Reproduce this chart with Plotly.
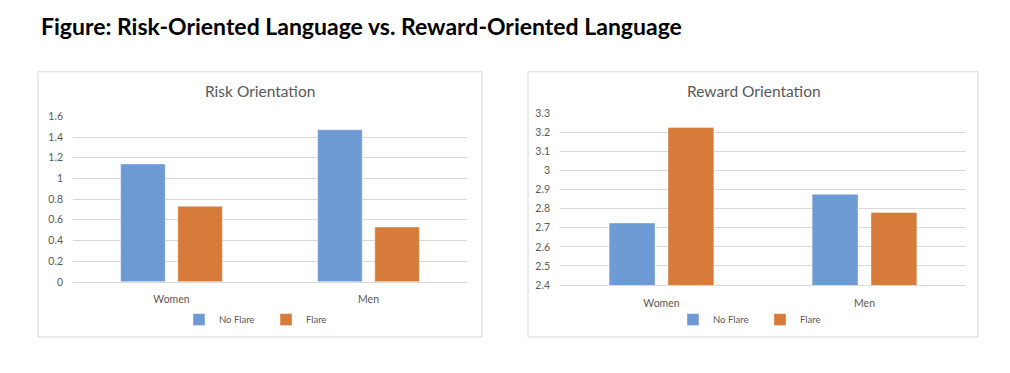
import plotly.graph_objects as go

categories = ["Women", "Men"]
series_names = ["No Flare", "Flare"]
risk_no_flare = [1.14, 1.47]
risk_flare = [0.73, 0.53]
reward_no_flare = [2.725, 2.875]
reward_flare = [3.225, 2.78]
risk_ticks = [0, 0.2, 0.4, 0.6, 0.8, 1, 1.2, 1.4, 1.6]
reward_ticks = [2.4, 2.5, 2.6, 2.7, 2.8, 2.9, 3, 3.1, 3.2, 3.3]

BLUE = "#6F9BD5"
ORANGE = "#D67B3A"
GRAY = "#595959"
GRID = "#D9D9D9"
FONT = "Lato"
W, H = 1010, 373

def px(x):
    return x / W

def py(y):
    return (H - y) / H

fig = go.Figure()
for name, vals, col in [(series_names[0], risk_no_flare, BLUE), (series_names[1], risk_flare, ORANGE)]:
    fig.add_trace(go.Bar(x=categories, y=vals, name=name,
                         marker=dict(color=col, line=dict(width=0.6, color="rgba(255,255,255,0.7)")),
                         xaxis="x", yaxis="y", legend="legend"))
for name, vals, col in [(series_names[0], reward_no_flare, BLUE), (series_names[1], reward_flare, ORANGE)]:
    fig.add_trace(go.Bar(x=categories, y=vals, name=name,
                         marker=dict(color=col, line=dict(width=0.6, color="rgba(255,255,255,0.7)")),
                         xaxis="x2", yaxis="y2", legend="legend2"))

tickfont = dict(family=FONT, size=10.5, color=GRAY)
xcommon = dict(showgrid=False, showline=True, linecolor=GRID, linewidth=1, ticks="", tickfont=tickfont,
               fixedrange=True, ticklabelstandoff=8)
ycommon = dict(showgrid=True, gridcolor=GRID, gridwidth=1, zeroline=False, showline=False, ticks="",
               tickfont=tickfont, ticklabelstandoff=9)

legend_common = dict(orientation="h", xanchor="center", yanchor="middle",
                     font=dict(family=FONT, size=9.5, color=GRAY),
                     bgcolor="rgba(0,0,0,0)", itemwidth=30, tracegroupgap=0,
                     entrywidth=42, entrywidthmode="pixels")

fig.update_layout(
    width=W, height=H,
    margin=dict(l=0, r=0, t=0, b=0),
    paper_bgcolor="white", plot_bgcolor="white",
    barmode="group", bargap=0.42, bargroupgap=0.22,
    xaxis=dict(domain=[px(73), px(467)], anchor="y", **xcommon),
    yaxis=dict(domain=[py(285), py(114)], anchor="x", range=[0, 1.6], tickvals=risk_ticks,
               ticktext=[f"{v:g}" for v in risk_ticks], **ycommon),
    xaxis2=dict(domain=[px(560), px(966)], anchor="y2", **xcommon),
    yaxis2=dict(domain=[py(288.3), py(110.7)], anchor="x2", range=[2.4, 3.3], tickvals=reward_ticks,
                ticktext=[f"{v:g}" for v in reward_ticks], **ycommon),
    legend=dict(x=px(266), y=py(324), **legend_common),
    legend2=dict(x=px(760), y=py(324), **legend_common),
    showlegend=True,
    shapes=[
        dict(type="rect", xref="paper", yref="paper", x0=px(38), x1=px(482), y0=py(342), y1=py(68),
             line=dict(color=GRID, width=1), layer="below"),
        dict(type="rect", xref="paper", yref="paper", x0=px(528), x1=px(978), y0=py(342), y1=py(68),
             line=dict(color=GRID, width=1), layer="below"),
    ],
    annotations=[
        dict(text="<b>Figure: Risk-Oriented Language vs. Reward-Oriented Language</b>", xref="paper", yref="paper",
             x=px(39), y=py(21), xanchor="left", yanchor="middle", showarrow=False,
             font=dict(family=FONT, size=23, color="black")),
        dict(text="Risk Orientation", xref="paper", yref="paper", x=px(260), y=py(88), xanchor="center",
             yanchor="middle", showarrow=False, font=dict(family=FONT, size=15.5, color=GRAY)),
        dict(text="Reward Orientation", xref="paper", yref="paper", x=px(754), y=py(88), xanchor="center",
             yanchor="middle", showarrow=False, font=dict(family=FONT, size=15.5, color=GRAY)),
    ],
)

fig.write_html("out.html", config={"displayModeBar": False},
               post_script="document.body.style.margin='0';document.body.style.overflow='hidden';")
